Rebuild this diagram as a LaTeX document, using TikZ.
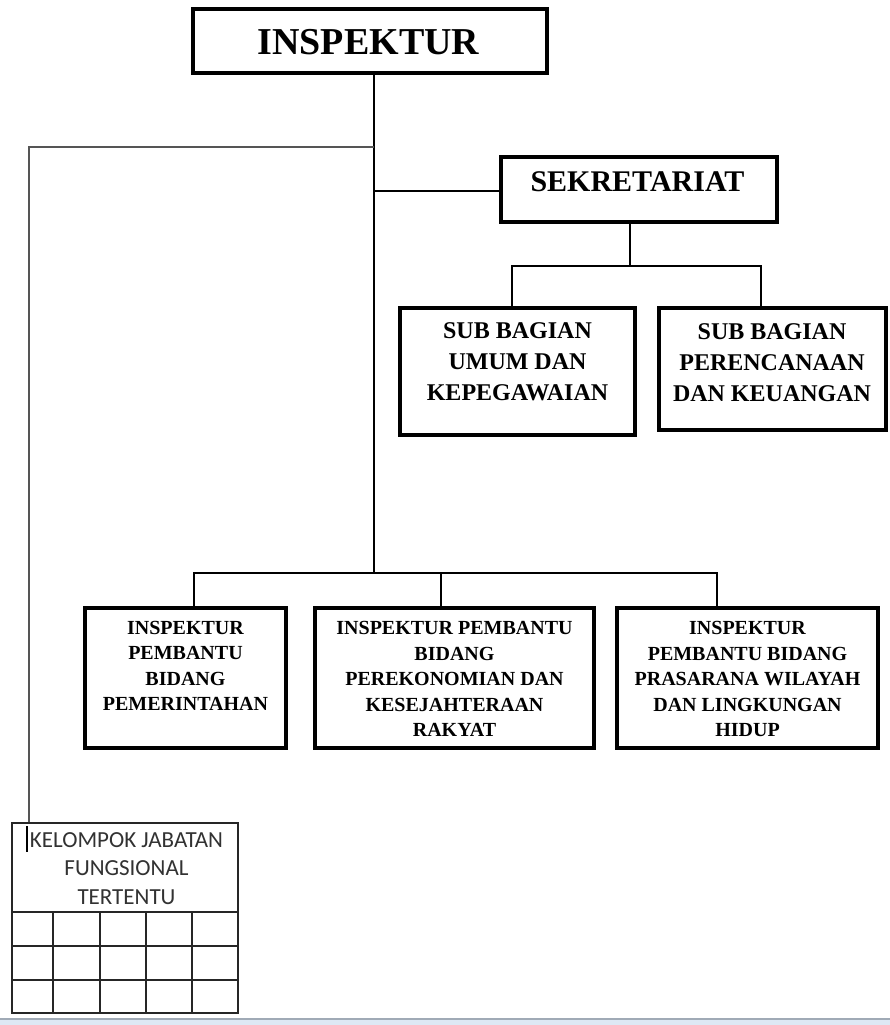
\documentclass[tikz,border=0pt]{standalone}
\usepackage{fontspec}
\setmainfont{Liberation Serif}
\newfontfamily\calib{Carlito}
\definecolor{sidegray}{RGB}{85,85,85}
\definecolor{keltext}{RGB}{50,50,50}
\definecolor{barline}{RGB}{160,170,182}
\definecolor{barfill}{RGB}{222,232,244}
\tikzset{
  bx/.style={draw=black, line width=3.5pt, rectangle, inner sep=0pt},
  conn/.style={draw=black, line width=1.3pt},
  sideconn/.style={draw=sidegray, line width=2pt},
  gridl/.style={draw=black!85, line width=1.6pt},
  tbig/.style={inner sep=0pt, font=\fontsize{38}{44}\selectfont\bfseries},
  tsek/.style={inner sep=0pt, font=\fontsize{30}{36}\selectfont\bfseries},
  tsub/.style={inner sep=0pt, align=center, font=\fontsize{24}{31}\selectfont\bfseries},
  tip/.style={inner sep=0pt, align=center, font=\fontsize{20}{25.5}\selectfont\bfseries},
  tkel/.style={inner sep=0pt, align=center, text=keltext, font=\calib\fontsize{23}{28.5}\selectfont},
}
\begin{document}
\begin{tikzpicture}[x=1pt,y=-1pt]
\useasboundingbox (0,0) rectangle (890,1025);
\fill[white] (0,0) rectangle (890,1025);
% bottom window bar
\fill[barfill] (0,1020) rectangle (890,1025);
\fill[barline] (0,1017.5) rectangle (890,1020);

% boxes
\node[bx, minimum width=354pt, minimum height=64pt] (insp) at (370,41) {};
\node[tbig] (inspt) at (368.5,42) {INSPEKTUR};

\node[bx, minimum width=276pt, minimum height=65pt] (sek) at (639,189.5) {};
\node[tsek] (sekt) at (637.5,182) {SEKRETARIAT};

\node[bx, minimum width=235pt, minimum height=127pt] (subumum) at (517.5,371.5) {};
\node[tsub] (subumumt) at (517.5,362) {SUB BAGIAN\\UMUM DAN\\KEPEGAWAIAN};

\node[bx, minimum width=227pt, minimum height=122pt] (subren) at (772.5,369) {};
\node[tsub] (subrent) at (772,362.5) {SUB BAGIAN\\PERENCANAAN\\DAN KEUANGAN};

\node[bx, minimum width=201pt, minimum height=140pt] (ipa) at (185.5,678) {};
\node[tip] (ipat) at (185.5,666) {INSPEKTUR\\PEMBANTU\\BIDANG\\PEMERINTAHAN};

\node[bx, minimum width=279pt, minimum height=140pt] (ipb) at (454.5,678) {};
\node[tip] (ipbt) at (454.5,679) {INSPEKTUR PEMBANTU\\BIDANG\\PEREKONOMIAN DAN\\KESEJAHTERAAN\\RAKYAT};

\node[bx, minimum width=261pt, minimum height=140pt] (ipc) at (747.5,678) {};
\node[tip] (ipct) at (747.5,679) {INSPEKTUR\\PEMBANTU BIDANG\\PRASARANA WILAYAH\\DAN LINGKUNGAN\\HIDUP};

% kelompok jabatan table
\node[draw=black!85, line width=1.8pt, rectangle, inner sep=0pt, minimum width=226pt, minimum height=190pt] (kel) at (125,918) {};
\node[tkel] (kelt) at (126.5,868.5) {KELOMPOK JABATAN\\FUNGSIONAL\\TERTENTU};
\draw[gridl] (kel.west |- 0,912) -- (kel.east |- 0,912);
\draw[gridl] (kel.west |- 0,946) -- (kel.east |- 0,946);
\draw[gridl] (kel.west |- 0,980) -- (kel.east |- 0,980);
\foreach \cx in {53,100,146,192}{
  \draw[gridl] (\cx,912) -- (kel.south -| \cx,0);
}

% coordinates of connector bends
\coordinate (tk) at (374,0);
\coordinate (lk) at (29,147);
\coordinate (sb) at (630,266);
\coordinate (la) at (512,266);
\coordinate (lb) at (761,266);
\coordinate (ba) at (194,573);
\coordinate (bb) at (441,573);
\coordinate (bc) at (717,573);

% connectors
\draw[conn] (insp.south -| tk) -- (tk |- ba);
\draw[sideconn] (tk |- lk) -- (lk) -- (lk |- kel.north);
\draw[conn] (tk |- 0,191) -- (sek.west |- 0,191);
\draw[conn] (sek.south -| sb) -- (sb);
\draw[conn] (subumum.north -| la) -- (la) -- (lb) -- (subren.north -| lb);
\draw[conn] (ipa.north -| ba) -- (ba) -- (bc) -- (ipc.north -| bc);
\draw[conn] (bb) -- (ipb.north -| bb);

% text cursor inside the table header
\draw[black, line width=2pt] (27,826) -- (27,852);
\end{tikzpicture}
\end{document}
